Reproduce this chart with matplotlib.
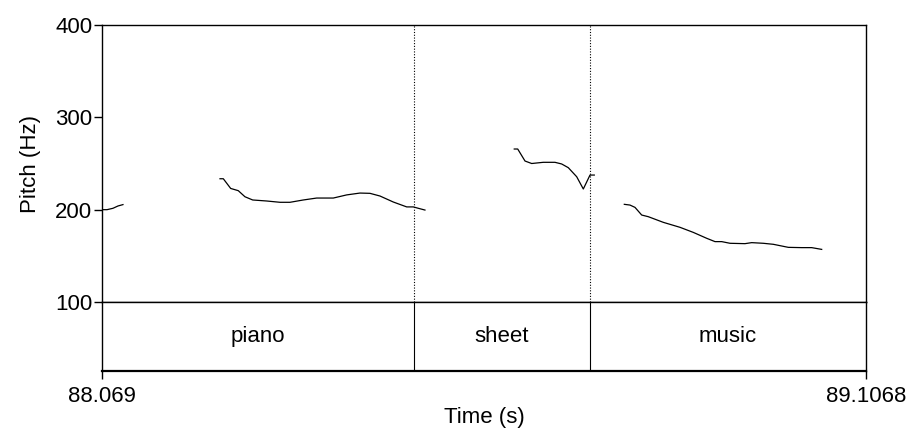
import matplotlib.pyplot as plt

plt.rcParams['font.family'] = ['Liberation Sans', 'DejaVu Sans']
plt.rcParams['font.size'] = 16

t_start = 88.069
t_end = 89.1068

# pitch track, one list per voiced stretch
seg1_t = [88.0690, 88.0758, 88.0839, 88.0907, 88.0975]
seg1_f = [200.0, 200.0, 201.5, 204.0, 205.5]

seg2_t = [88.2293, 88.2338, 88.2438, 88.2541, 88.2632, 88.2737, 88.2927, 88.3108,
          88.3244, 88.3424, 88.3606, 88.3832, 88.4014, 88.4194, 88.4330, 88.4466,
          88.4647, 88.4829, 88.4919, 88.4987, 88.5077]
seg2_f = [233.5, 233.5, 223.0, 220.6, 214.0, 210.5, 209.4, 208.0,
          208.0, 210.5, 212.6, 212.6, 216.0, 218.0, 217.7, 214.8,
          208.3, 203.0, 203.0, 201.5, 199.6]

seg3_t = [88.6290, 88.6337, 88.6436, 88.6527, 88.6684, 88.6843, 88.6934, 88.7024,
          88.7138, 88.7228, 88.7319, 88.7377]
seg3_f = [265.7, 265.7, 252.7, 250.0, 251.3, 251.3, 249.5, 245.5,
          235.7, 222.4, 237.5, 237.5]

seg4_t = [88.7785, 88.7862, 88.7930, 88.8021, 88.8111, 88.8314, 88.8541, 88.8722,
          88.8904, 88.9017, 88.9108, 88.9221, 88.9424, 88.9515, 88.9673, 88.9809,
          89.0013, 89.0195, 89.0330, 89.0466]
seg4_f = [205.8, 205.0, 202.5, 194.2, 192.4, 186.3, 180.9, 175.4,
          169.0, 165.4, 165.4, 163.6, 163.2, 164.3, 163.6, 162.5,
          159.2, 158.9, 158.9, 157.0]

segments = [(seg1_t, seg1_f), (seg2_t, seg2_f), (seg3_t, seg3_f), (seg4_t, seg4_f)]

words = ['piano', 'sheet', 'music']
bounds = [88.069, 88.4928, 88.7319, 89.1068]

yticks = [100, 200, 300, 400]

fig = plt.figure(figsize=(9.09, 4.32), dpi=100)
ax = fig.add_axes([0.1122, 0.3009, 0.8405, 0.6412])
tier = fig.add_axes([0.1122, 0.1412, 0.8405, 0.1597], sharex=ax)

for t, f in segments:
    ax.plot(t, f, color='black', lw=0.9)
for b in bounds[1:-1]:
    ax.axvline(b, color='black', lw=0.8, ls=(0, (1, 1.5)))
    tier.axvline(b, color='black', lw=0.8)

ax.set_xlim(t_start, t_end)
ax.set_ylim(100, 400)
ax.set_yticks(yticks)
ax.set_ylabel('Pitch (Hz)', labelpad=10)
ax.tick_params(axis='y', direction='out', length=6, width=1, pad=1)
ax.tick_params(axis='x', bottom=False, labelbottom=False)
for s in ax.spines.values():
    s.set_linewidth(1.0)

for i, w in enumerate(words):
    tier.text((bounds[i] + bounds[i + 1]) / 2, 0.5, w, ha='center', va='center',
              transform=tier.get_xaxis_transform())
tier.set_ylim(0, 1)
tier.set_yticks([])
tier.set_xticks([t_start, t_end])
tier.set_xticklabels(['88.069', '89.1068'])
tier.tick_params(axis='x', direction='out', length=6, width=1, pad=5)
tier.set_xlabel('Time (s)', labelpad=0)
for s in tier.spines.values():
    s.set_linewidth(1.0)
tier.spines['bottom'].set_linewidth(1.6)

fig.savefig('out.png', dpi=100)
